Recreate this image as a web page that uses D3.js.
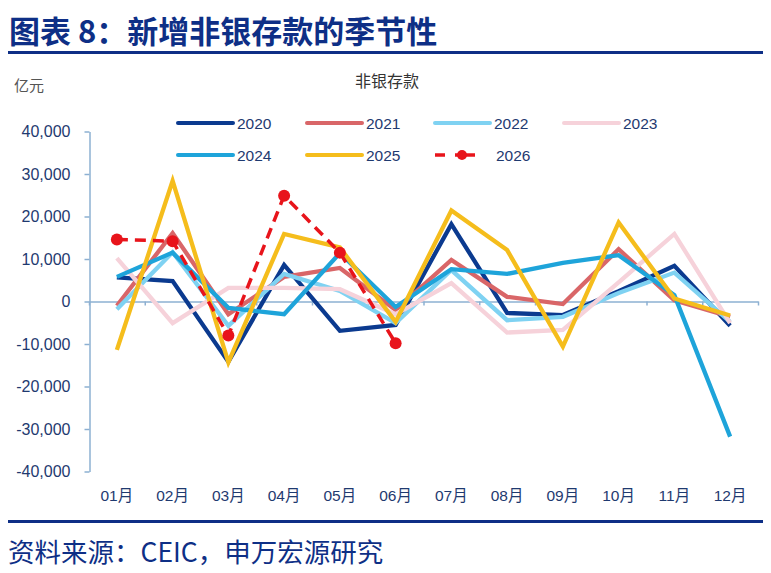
<!DOCTYPE html>
<html><head><meta charset="utf-8">
<script src="https://cdn.jsdelivr.net/npm/d3@7"></script>
<style>
body{margin:0;background:#fff;}
svg text{font-family:"Liberation Sans",Arial,"Noto Sans CJK SC",sans-serif;}
</style></head>
<body><svg id="c" width="771" height="573"></svg>
<script>
const months = ["01月","02月","03月","04月","05月","06月","07月","08月","09月","10月","11月","12月"];
const yTicks = [-40000,-30000,-20000,-10000,0,10000,20000,30000,40000];
const seriesNames = ["2020","2021","2022","2023","2024","2025","2026"];
const seriesColors = ["#0b3a8f","#d96668","#7fd2f2","#f6d2da","#1ea4da","#f5bd1c","#e8141b"];
const v2020 = [5700,4800,-14200,8600,-6900,-5500,18200,-2700,-3200,2400,8400,-5700];
const v2021 = [-1000,16100,-3000,5800,7900,-2000,9800,1100,-600,12300,300,-3600];
const v2022 = [-1800,11600,-5700,6500,2500,-5100,7400,-4400,-3600,2000,6800,-4800];
const v2023 = [10200,-5100,3200,3200,2900,-3000,4300,-7300,-6700,4500,15900,-5100];
const v2024 = [5800,11500,-1500,-3000,11400,-1300,7600,6500,9100,10900,1500,-31800];
const v2025 = [-11400,28400,-14300,15900,12700,-4800,21400,12100,-10600,18600,700,-3300];
const v2026 = [14600,14200,-8000,24900,11500,-9800];
const allSeries = [v2020,v2021,v2022,v2023,v2024,v2025,v2026];

const svg = d3.select("#c");
const navy = "#0e2f86";
const axisCol = "#8db0d2";
const labelCol = "#1f3a70";

// title
svg.append("text").attr("x",9).attr("y",43).text("图表 8：新增非银存款的季节性")
  .style("font-family","'Noto Sans CJK SC',sans-serif").style("font-weight","bold")
  .style("font-size","31px").attr("fill",navy);
svg.append("rect").attr("x",8).attr("y",51).attr("width",755).attr("height",3).attr("fill",navy);
svg.append("rect").attr("x",8).attr("y",520).attr("width",755).attr("height",3).attr("fill",navy);
svg.append("text").attr("x",8).attr("y",562).text("资料来源：CEIC，申万宏源研究")
  .style("font-family","'Noto Sans CJK SC',sans-serif").style("font-size","26.5px").attr("fill",navy);

svg.append("text").attr("x",14).attr("y",91).text("亿元")
  .style("font-family","'Noto Sans CJK SC',sans-serif").style("font-size","15px").attr("fill","#555");
svg.append("text").attr("x",387).attr("y",87).attr("text-anchor","middle").text("非银存款")
  .style("font-family","'Noto Sans CJK SC',sans-serif").style("font-size","16px").attr("fill","#333");

const x = d3.scaleBand().domain(months).range([89,758]).padding(0);
const xc = m => x(m) + x.bandwidth()/2;
const xb = d3.scaleLinear().domain([0,12]).range([89,758]);
const y = d3.scaleLinear().domain([-40000,40000]).range([471.5,131.5]);

// y axis
const fmt = d => (d<0?"-":"") + d3.format(",")(Math.abs(d));
const ya = svg.append("g").attr("transform","translate(89.5,0)")
  .call(d3.axisLeft(y).tickValues(yTicks).tickSize(5).tickSizeOuter(0).tickFormat(fmt).tickPadding(14));
ya.select(".domain").attr("stroke",axisCol).attr("stroke-width",1.5);
ya.selectAll(".tick line").attr("stroke",axisCol).attr("stroke-width",1.5);
ya.selectAll(".tick text").attr("fill",labelCol).style("font-size","16px");

// zero axis
const xa = svg.append("g").attr("transform",`translate(0,${y(0)})`)
  .call(d3.axisBottom(xb).tickValues(d3.range(0,13)).tickSize(4).tickSizeOuter(0).tickFormat(""));
xa.select(".domain").attr("stroke",axisCol).attr("stroke-width",1.5);
xa.selectAll(".tick line").attr("stroke",axisCol).attr("stroke-width",1.5);

// month labels
const xl = svg.append("g").attr("transform","translate(0,485)")
  .call(d3.axisBottom(x).tickSize(0).tickPadding(5));
xl.select(".domain").remove();
xl.selectAll(".tick text").attr("fill",labelCol).style("font-size","15.5px");

const line = d3.line().x((d,i)=>xc(months[i])).y(d=>y(d));
allSeries.forEach((vals,k)=>{
  const p = svg.append("path").datum(vals).attr("d",line).attr("fill","none")
    .attr("stroke",seriesColors[k]).attr("stroke-width",4.3).attr("stroke-linejoin","miter");
  if(k===6){
    p.attr("stroke-dasharray","11,7").attr("stroke-width",3.5);
    svg.selectAll(null).data(vals).enter().append("circle")
      .attr("cx",(d,i)=>xc(months[i])).attr("cy",d=>y(d)).attr("r",6).attr("fill",seriesColors[k]);
  }
});

// legend
const legPos = [[178,123],[307,123],[435,123],[564,123],[178,155],[307,155],[435,155]];
seriesNames.forEach((n,k)=>{
  const [lx,ly] = legPos[k];
  const g = svg.append("g");
  if(k<6){
    g.append("line").attr("x1",lx).attr("x2",lx+55).attr("y1",ly).attr("y2",ly)
      .attr("stroke",seriesColors[k]).attr("stroke-width",4).attr("stroke-linecap","round");
    g.append("text").attr("x",lx+59).attr("y",ly+5.5).text(n).attr("fill",labelCol).style("font-size","15.5px");
  } else {
    g.append("line").attr("x1",lx).attr("x2",lx+40).attr("y1",ly).attr("y2",ly)
      .attr("stroke",seriesColors[k]).attr("stroke-width",3.5).attr("stroke-dasharray","10,10");
    g.append("line").attr("x1",lx+27).attr("x2",lx+40).attr("y1",ly).attr("y2",ly)
      .attr("stroke",seriesColors[k]).attr("stroke-width",3.5);
    g.append("circle").attr("cx",lx+27).attr("cy",ly).attr("r",5).attr("fill",seriesColors[k]);
    g.append("text").attr("x",lx+61).attr("y",ly+5.5).text(n).attr("fill",labelCol).style("font-size","15.5px");
  }
});
</script></body></html>
